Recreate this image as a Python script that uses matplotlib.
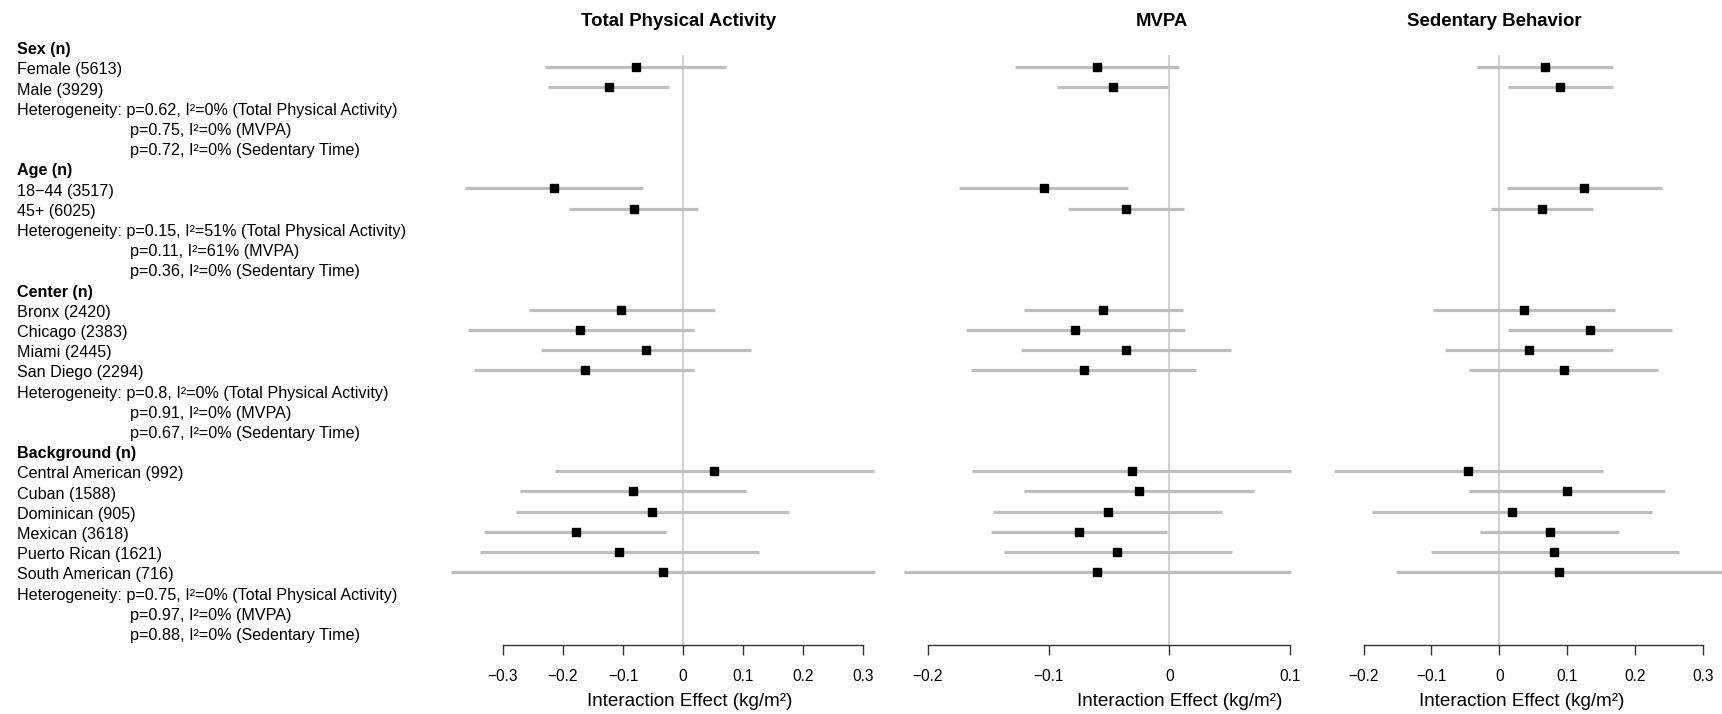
import matplotlib.pyplot as plt
import numpy as np

plt.rcParams.update({'font.family': ['Liberation Sans', 'DejaVu Sans']})
plt.rcParams.update({'font.size': 11.5})
plt.close('all')

#%% data
groups = ['Sex (n)', 'Age (n)', 'Center (n)', 'Background (n)']
sub_labels = [['Female (5613)', 'Male (3929)'],
              ['18\u221244 (3517)', '45+ (6025)'],
              ['Bronx (2420)', 'Chicago (2383)', 'Miami (2445)', 'San Diego (2294)'],
              ['Central American (992)', 'Cuban (1588)', 'Dominican (905)',
               'Mexican (3618)', 'Puerto Rican (1621)', 'South American (716)']]

het_p_tpa = ['0.62', '0.15', '0.8', '0.75']
het_i2_tpa = ['0%', '51%', '0%', '0%']
het_p_mvpa = ['0.75', '0.11', '0.91', '0.97']
het_i2_mvpa = ['0%', '61%', '0%', '0%']
het_p_sed = ['0.72', '0.36', '0.67', '0.88']
het_i2_sed = ['0%', '0%', '0%', '0%']

# Total physical activity
tpa_est = [-0.078, -0.124, -0.215, -0.082, -0.103, -0.171, -0.062, -0.164,
           0.052, -0.083, -0.052, -0.179, -0.106, -0.034]
tpa_lo = [-0.230, -0.225, -0.363, -0.190, -0.257, -0.359, -0.236, -0.348,
          -0.213, -0.271, -0.278, -0.331, -0.338, -0.387]
tpa_hi = [0.072, -0.023, -0.066, 0.025, 0.053, 0.018, 0.113, 0.019,
          0.319, 0.105, 0.176, -0.028, 0.126, 0.320]
# MVPA
mvpa_est = [-0.060, -0.047, -0.104, -0.036, -0.055, -0.078, -0.036, -0.071,
            -0.031, -0.025, -0.051, -0.075, -0.043, -0.060]
mvpa_lo = [-0.128, -0.093, -0.174, -0.084, -0.120, -0.168, -0.123, -0.164,
           -0.163, -0.120, -0.146, -0.148, -0.137, -0.220]
mvpa_hi = [0.008, -0.001, -0.034, 0.012, 0.011, 0.013, 0.051, 0.022,
           0.101, 0.070, 0.044, -0.002, 0.052, 0.101]
# Sedentary behavior
sed_est = [0.067, 0.090, 0.125, 0.063, 0.037, 0.134, 0.044, 0.095,
           -0.046, 0.100, 0.018, 0.075, 0.080, 0.088]
sed_lo = [-0.033, 0.013, 0.011, -0.012, -0.098, 0.013, -0.080, -0.044,
          -0.244, -0.044, -0.187, -0.028, -0.101, -0.152]
sed_hi = [0.168, 0.167, 0.240, 0.138, 0.171, 0.254, 0.168, 0.234,
          0.152, 0.244, 0.225, 0.177, 0.264, 0.328]

titles = ['Total Physical Activity', 'MVPA', 'Sedentary Behavior']
xticks = [[-0.3, -0.2, -0.1, 0, 0.1, 0.2, 0.3],
          [-0.2, -0.1, 0, 0.1],
          [-0.2, -0.1, 0, 0.1, 0.2, 0.3]]

#%% layout of rows
rows = []  # (text, bold, x offset)
est_rows = []
for g, (grp, subs) in enumerate(zip(groups, sub_labels)):
    rows.append((grp, True, 0))
    for s in subs:
        est_rows.append(len(rows))
        rows.append((s, False, 0))
    rows.append(('Heterogeneity: p=%s, I\u00b2=%s (Total Physical Activity)'
                 % (het_p_tpa[g], het_i2_tpa[g]), False, 0))
    rows.append(('p=%s, I\u00b2=%s (MVPA)' % (het_p_mvpa[g], het_i2_mvpa[g]), False, 113))
    rows.append(('p=%s, I\u00b2=%s (Sedentary Time)' % (het_p_sed[g], het_i2_sed[g]), False, 113))
est_rows = np.array(est_rows)

W, H = 1722, 714
fig = plt.figure(figsize=(W/100, H/100), dpi=100)
top_px, bot_px = 30, 645
row0, row_step = 47, 20.2
ylim = ((bot_px - row0)/row_step, (top_px - row0)/row_step)

def add_ax(left_px, right_px):
    return fig.add_axes([left_px/W, 1 - bot_px/H, (right_px - left_px)/W, (bot_px - top_px)/H])

# label column
axl = add_ax(0, 440)
axl.set_xlim(0, 440)
axl.set_ylim(*ylim)
axl.axis('off')
for i, (txt, bold, dx) in enumerate(rows):
    axl.text(17 + dx, i + 0.06, txt, ha='left', va='center_baseline',
             fontweight='bold' if bold else 'normal', fontsize=11.6)

# panels: zero position (px), px per unit, axes extent (px)
panels = [(683, 600, 440, 880), (1169.3, 1208, 895, 1300), (1499.3, 679, 1320, 1722)]
data = [(tpa_est, tpa_lo, tpa_hi), (mvpa_est, mvpa_lo, mvpa_hi), (sed_est, sed_lo, sed_hi)]
title_x = [678.7, 1161.7, 1494.3]
label_x = [689.7, 1180, 1521.7]

for k, ((z, s, l, r), (est, lo, hi)) in enumerate(zip(panels, data)):
    ax = add_ax(l, r)
    ax.set_xlim((l - z)/s, (r - z)/s)
    ax.set_ylim(*ylim)
    ax.patch.set_alpha(0)
    for sp in ['top', 'right', 'left']:
        ax.spines[sp].set_visible(False)
    ax.spines['bottom'].set_bounds(xticks[k][0], xticks[k][-1])
    ax.spines['bottom'].set_color('#333333')
    ax.spines['bottom'].set_linewidth(1.0)
    ax.set_yticks([])
    ax.set_xticks(xticks[k])
    ax.set_xticklabels([('%g' % v).replace('-', '\u2212') for v in xticks[k]])
    ax.tick_params(axis='x', length=7, width=1.0, color='#333333', pad=10, labelsize=11.2)
    ax.plot([0, 0], [(56 - row0)/row_step, ylim[0]], color='#d3d3d3', lw=1.5, zorder=1, clip_on=False)
    ax.hlines(est_rows, lo, hi, color='#bebebe', lw=2.3, zorder=2)
    ax.plot(est, est_rows, 's', color='black', ms=5.2, zorder=3)
    fig.text(title_x[k]/W, 1 - 21/H, titles[k], ha='center', va='center',
             fontweight='bold', fontsize=13.4)
    fig.text(label_x[k]/W, 1 - 702/H, 'Interaction Effect (kg/m\u00b2)', ha='center',
             va='center', fontsize=13.6)

fig.savefig('out.png', dpi=100)
